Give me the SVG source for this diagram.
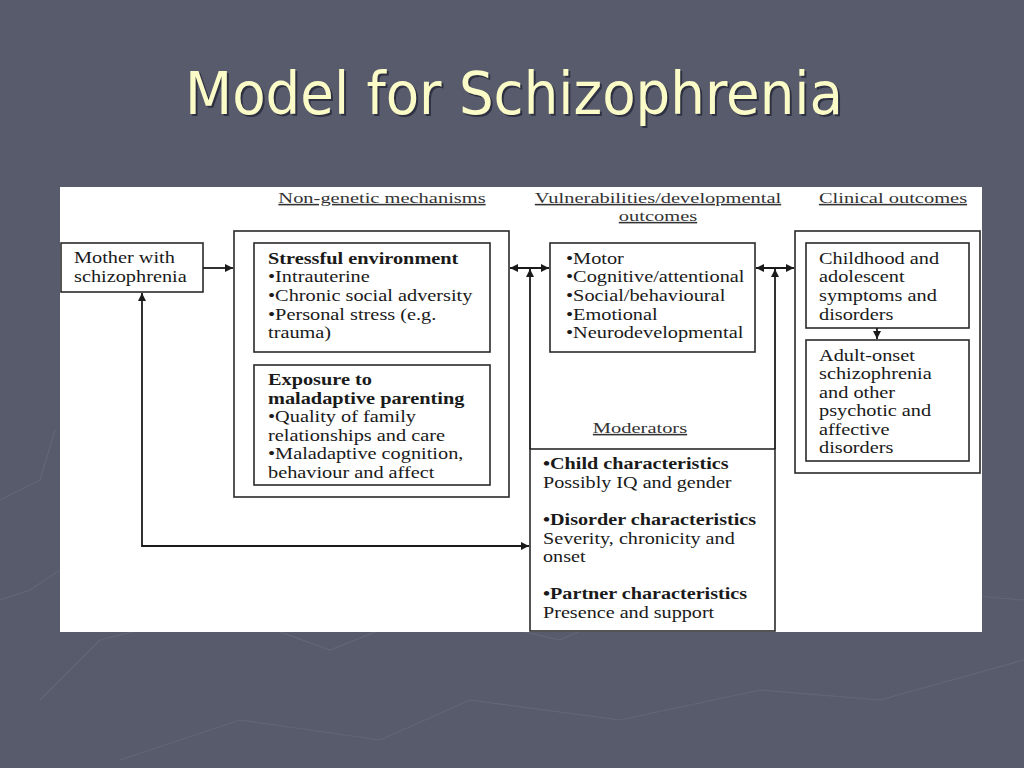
<svg xmlns="http://www.w3.org/2000/svg" width="1024" height="768" viewBox="0 0 1024 768">
<defs>
<marker id="ah" viewBox="0 0 10 10" refX="10" refY="5" markerWidth="9" markerHeight="8" markerUnits="userSpaceOnUse" orient="auto-start-reverse">
<path d="M0,0 L10,5 L0,10 z" fill="#1a1a1a"/>
</marker>
<style>
.bx{fill:none;stroke:#2a2a2a;stroke-width:1.6}
.ln{fill:none;stroke:#1a1a1a;stroke-width:1.8}
.t{font-family:"Liberation Serif","Times New Roman",serif;font-size:16px;fill:#1a1a1a}
.b{font-weight:bold}
.h{font-family:"Liberation Serif","Times New Roman",serif;font-size:15.5px;fill:#333;text-decoration:underline;text-anchor:middle}
.bg{fill:none;stroke:#6a6e7e;stroke-width:1.2;opacity:0.6}
</style>
</defs>
<rect width="1024" height="768" fill="#575b6b"/>
<g id="bgdeco">
<polyline class="bg" points="40,700 100,640 220,610 330,650 430,610 560,640 650,600 760,630 900,590 1024,600"/>
<polyline class="bg" points="120,760 240,720 380,740 470,700 620,720 760,690 880,700 1024,660"/>
<polyline class="bg" points="0,600 30,590 60,570"/>
<polyline class="bg" points="0,500 40,480 55,430"/>
</g>
<text x="514" y="114" text-anchor="middle" font-family="'DejaVu Sans Condensed','DejaVu Sans',sans-serif" font-size="59" fill="#1e2030" opacity="0.7" textLength="658" lengthAdjust="spacingAndGlyphs" transform="translate(2,2)">Model for Schizophrenia</text>
<text x="514" y="114" text-anchor="middle" font-family="'DejaVu Sans Condensed','DejaVu Sans',sans-serif" font-size="59" fill="#fbfbc8" textLength="658" lengthAdjust="spacingAndGlyphs">Model for Schizophrenia</text>
<rect x="60" y="187" width="922" height="445" fill="#ffffff"/>
<g id="headings">
<g transform="translate(382,0) scale(1.32,1)"><text class="h" x="0" y="203">Non-genetic mechanisms</text></g>
<g transform="translate(658,0) scale(1.32,1)"><text class="h" x="0" y="203">Vulnerabilities/developmental</text><text class="h" x="0" y="221">outcomes</text></g>
<g transform="translate(893,0) scale(1.32,1)"><text class="h" x="0" y="203">Clinical outcomes</text></g>
<g transform="translate(640,0) scale(1.32,1)"><text class="h" x="0" y="433">Moderators</text></g>
</g>
<g id="mother">
<rect class="bx" x="61" y="243" width="142" height="49"/>
<g transform="translate(74,0) scale(1.27,1)">
<text class="t" x="0" y="263">Mother with</text>
<text class="t" x="0" y="282">schizophrenia</text>
</g>
</g>
<g id="nongenetic">
<rect class="bx" x="234" y="231" width="275" height="266"/>
</g>
<g id="stressful">
<rect class="bx" x="254" y="243" width="236" height="109"/>
<g transform="translate(268,0) scale(1.27,1)">
<text class="t b" x="0" y="264">Stressful environment</text>
<text class="t" x="0" y="282">•Intrauterine</text>
<text class="t" x="0" y="301">•Chronic social adversity</text>
<text class="t" x="0" y="320">•Personal stress (e.g.</text>
<text class="t" x="0" y="338">trauma)</text>
</g>
</g>
<g id="parenting">
<rect class="bx" x="254" y="365" width="236" height="120"/>
<g transform="translate(268,0) scale(1.27,1)">
<text class="t b" x="0" y="385">Exposure to</text>
<text class="t b" x="0" y="404">maladaptive parenting</text>
<text class="t" x="0" y="422">•Quality of family</text>
<text class="t" x="0" y="441">relationships and care</text>
<text class="t" x="0" y="459">•Maladaptive cognition,</text>
<text class="t" x="0" y="478">behaviour and affect</text>
</g>
</g>
<g id="vulnerabilities">
<rect class="bx" x="550" y="243" width="205" height="109"/>
<g transform="translate(566,0) scale(1.27,1)">
<text class="t" x="0" y="264">•Motor</text>
<text class="t" x="0" y="282">•Cognitive/attentional</text>
<text class="t" x="0" y="301">•Social/behavioural</text>
<text class="t" x="0" y="320">•Emotional</text>
<text class="t" x="0" y="338">•Neurodevelopmental</text>
</g>
</g>
<g id="clinical">
<rect class="bx" x="795" y="231" width="185" height="242"/>
</g>
<g id="childhood">
<rect class="bx" x="806" y="243" width="163" height="85"/>
<g transform="translate(819,0) scale(1.27,1)">
<text class="t" x="0" y="264">Childhood and</text>
<text class="t" x="0" y="282">adolescent</text>
<text class="t" x="0" y="301">symptoms and</text>
<text class="t" x="0" y="320">disorders</text>
</g>
</g>
<g id="adult">
<rect class="bx" x="806" y="340" width="163" height="121"/>
<g transform="translate(819,0) scale(1.27,1)">
<text class="t" x="0" y="361">Adult-onset</text>
<text class="t" x="0" y="379">schizophrenia</text>
<text class="t" x="0" y="398">and other</text>
<text class="t" x="0" y="416">psychotic and</text>
<text class="t" x="0" y="435">affective</text>
<text class="t" x="0" y="453">disorders</text>
</g>
</g>
<g id="moderators">
<rect class="bx" x="530" y="449" width="245" height="182"/>
<g transform="translate(543,0) scale(1.26,1)">
<text class="t b" x="0" y="469">•Child characteristics</text>
<text class="t" x="0" y="488">Possibly IQ and gender</text>
<text class="t b" x="0" y="525">•Disorder characteristics</text>
<text class="t" x="0" y="544">Severity, chronicity and</text>
<text class="t" x="0" y="562">onset</text>
<text class="t b" x="0" y="599">•Partner characteristics</text>
<text class="t" x="0" y="618">Presence and support</text>
</g>
</g>
<g id="connectors">
<line class="ln" x1="203" y1="268" x2="233" y2="268" marker-end="url(#ah)"/>
<line class="ln" x1="510" y1="268" x2="549" y2="268" marker-start="url(#ah)" marker-end="url(#ah)"/>
<line class="ln" x1="530" y1="449" x2="530" y2="269" marker-end="url(#ah)"/>
<line class="ln" x1="756" y1="268" x2="794" y2="268" marker-start="url(#ah)" marker-end="url(#ah)"/>
<line class="ln" x1="775" y1="449" x2="775" y2="269" marker-end="url(#ah)"/>
<line class="ln" x1="877" y1="328" x2="877" y2="339" marker-end="url(#ah)"/>
<polyline class="ln" points="142,546 529,546" marker-end="url(#ah)"/>
<polyline class="ln" points="142,547 142,293" marker-end="url(#ah)"/>
</g>
</svg>
